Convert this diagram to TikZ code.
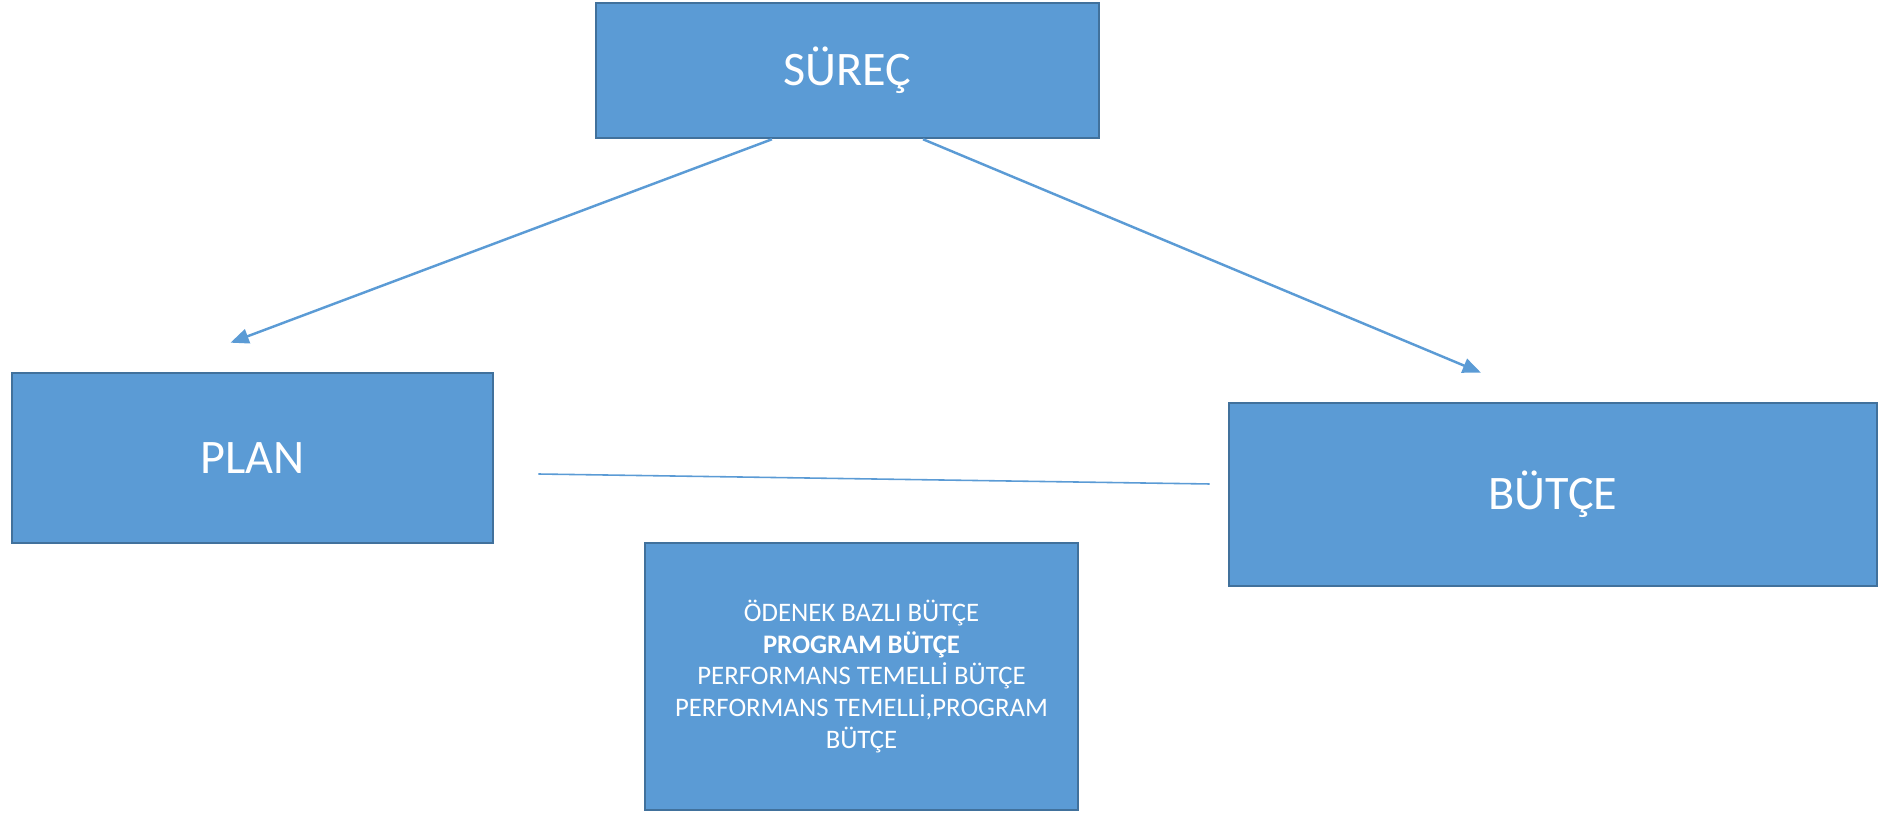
\documentclass[tikz,border=0pt]{standalone}
\usepackage{fontspec}
\setmainfont{Carlito}
\usepackage{tikz}
\usetikzlibrary{arrows.meta,positioning}
\definecolor{boxblue}{HTML}{5B9BD5}
\definecolor{boxedge}{HTML}{41719C}

\begin{document}
\begin{tikzpicture}[x=0.01cm,y=-0.01cm,>={Triangle[length=5.2pt,width=4.2pt]},
                    line width=0.7pt]
  \tikzstyle{block}=[rectangle,draw=boxedge,fill=boxblue,text=white,
                     inner sep=0pt,line width=0.7pt]
  \tikzstyle{big}=[block,font=\fontsize{13.7pt}{16pt}\selectfont]
  \tikzstyle{link}=[color=boxblue]

  \useasboundingbox (0,0) rectangle (1881,813);

  \node[big,minimum width=5.03cm,minimum height=1.35cm] (surec) at (847.5,70.5) {SÜREÇ};
  \node[big,minimum width=4.81cm,minimum height=1.70cm] (plan) at (252.5,458) {PLAN};
  \node[big,minimum width=6.48cm,minimum height=1.83cm] (butce) at (1553,494.5) {BÜTÇE};
  \node[block,minimum width=4.33cm,minimum height=2.67cm,align=center,
        font=\fontsize{7.6pt}{9pt}\selectfont] (turler) at (861.5,676.5)
        {ÖDENEK BAZLI BÜTÇE\\\textbf{PROGRAM BÜTÇE}\\PERFORMANS TEMELLİ BÜTÇE\\
         PERFORMANS TEMELLİ,PROGRAM\\BÜTÇE};

  \draw[link,->] ([xshift=-0.755cm]surec.south) -- ([xshift=-0.22cm,yshift=0.29cm]plan.north);
  \draw[link,->] ([xshift=0.755cm]surec.south) -- ([xshift=-0.72cm,yshift=0.29cm]butce.north);
  \draw[link,line width=0.45pt] ([xshift=0.44cm,yshift=-0.16cm]plan.east)
    -- ([xshift=-0.18cm,yshift=0.105cm]butce.west);
\end{tikzpicture}
\end{document}
